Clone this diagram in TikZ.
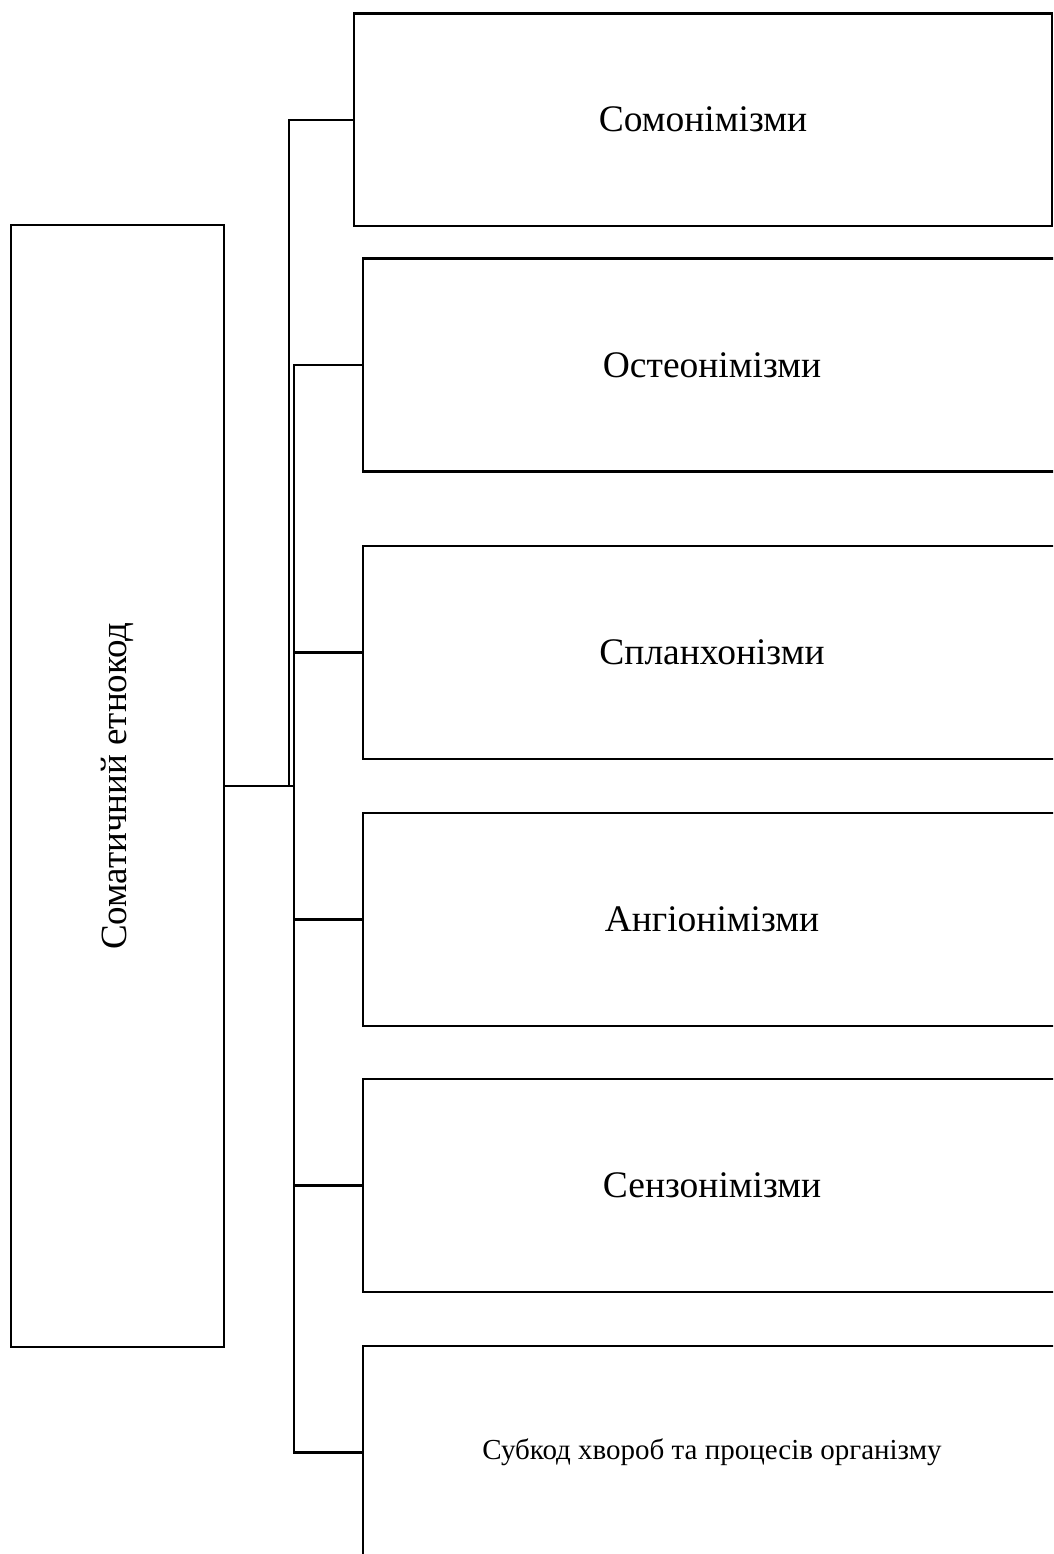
\documentclass[tikz,border=0pt]{standalone}
\usepackage{fontspec}
\setmainfont{Liberation Serif}
\begin{document}
\begin{tikzpicture}[x=1pt,y=-1pt,line width=2.4pt,
  box/.style={draw=black,rectangle,inner sep=0pt,font=\fontsize{37.5}{42}\selectfont},
  rbox/.style={box,minimum width=698pt,minimum height=213pt}]
\useasboundingbox (0,0) rectangle (1053,1554);
\clip (0,0) rectangle (1053,1554);
\node[box,rotate=90,minimum width=1122pt,minimum height=213pt,font=\fontsize{37}{42}\selectfont] (L) at (117.5,786) {Соматичний етнокод};
\node[rbox,minimum height=212.5pt] (b1) at (703,119.75) {Сомонімізми};
\node[rbox] (b2) at (712,365) {Остеонімізми};
\node[rbox] (b3) at (712,652.5) {Спланхонізми};
\node[rbox] (b4) at (712,919.5) {Ангіонімізми};
\node[rbox] (b5) at (712,1185.5) {Сензонімізми};
\node[rbox,font=\fontsize{29}{33}\selectfont] (b6) at (712,1452.5) {Субкод хвороб та процесів організму};
\coordinate (j1) at (289,786);
\coordinate (j2) at (294,786);
\draw (L.south) -- (j2);
\draw (j1) |- (b1.west);
\draw (b2.west) -| (j2);
\draw (b6.west) -| (j2);
\draw (b3.west) -- (b3.west -| j2);
\draw (b4.west) -- (b4.west -| j2);
\draw (b5.west) -- (b5.west -| j2);
\end{tikzpicture}
\end{document}
